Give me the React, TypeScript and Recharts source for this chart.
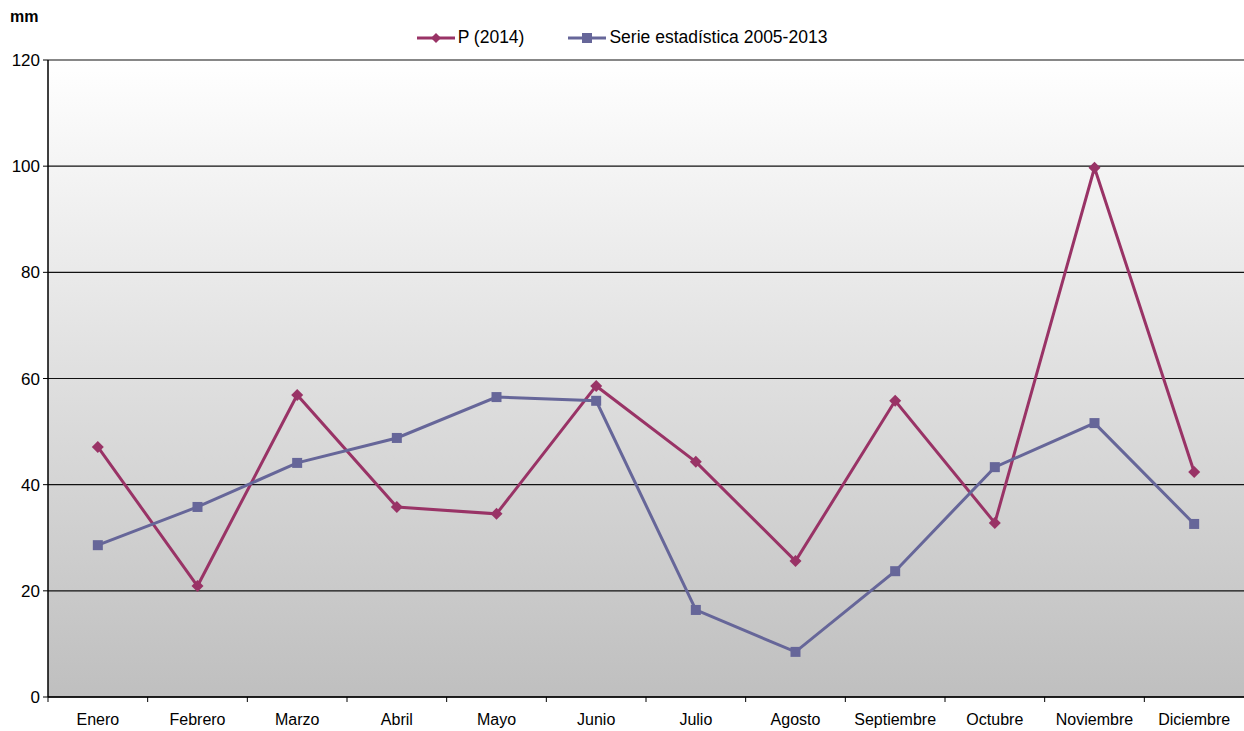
import React from "react";
import { LineChart, Line, XAxis, YAxis, CartesianGrid } from "recharts";

const months = [
  "Enero",
  "Febrero",
  "Marzo",
  "Abril",
  "Mayo",
  "Junio",
  "Julio",
  "Agosto",
  "Septiembre",
  "Octubre",
  "Noviembre",
  "Diciembre",
];
const p2014 = [47.1, 20.9, 56.9, 35.8, 34.5, 58.6, 44.3, 25.6, 55.8, 32.8, 99.7, 42.4];
const serie = [28.6, 35.8, 44.1, 48.8, 56.5, 55.8, 16.4, 8.5, 23.7, 43.3, 51.6, 32.6];
const yTicks = [0, 20, 40, 60, 80, 100, 120];

const data = months.map((m, i) => ({ month: m, p: p2014[i], s: serie[i] }));

const FONT = "'Liberation Sans', Arial, sans-serif";
const RED = "#993366";
const BLUE = "#666699";
const HALF_BAND = (1244 - 48) / 12 / 2;

const Diamond = (props: any) => {
  const { cx, cy } = props;
  if (cx == null || cy == null) return null;
  return (
    <path
      key={props.index}
      d={`M${cx},${cy - 6}L${cx + 6},${cy}L${cx},${cy + 6}L${cx - 6},${cy}Z`}
      fill={RED}
    />
  );
};

const Square = (props: any) => {
  const { cx, cy } = props;
  if (cx == null || cy == null) return null;
  return <rect key={props.index} x={cx - 5} y={cy - 5} width={10} height={10} fill={BLUE} />;
};

const MonthTick = (props: any) => {
  const { x, y, payload } = props;
  return (
    <g>
      <line x1={x - HALF_BAND} x2={x - HALF_BAND} y1={y - 8} y2={y - 3} stroke="#000" />
      <text x={x} y={y + 20} textAnchor="middle" fontSize={16} fontFamily={FONT} fill="#000">
        {payload.value}
      </text>
    </g>
  );
};

const ValueTick = (props: any) => {
  const { x, y, payload } = props;
  return (
    <text x={x - 1} y={y + 6} textAnchor="end" fontSize={17} fontFamily={FONT} fill="#000">
      {payload.value}
    </text>
  );
};

const LegendBox = () => (
  <div
    style={{
      position: "absolute",
      left: 0,
      top: 27,
      width: 1244,
      display: "flex",
      justifyContent: "center",
      gap: 44,
      fontFamily: FONT,
      fontSize: 17.5,
      color: "#000",
    }}
  >
    <span style={{ display: "flex", alignItems: "center" }}>
      <svg width={38} height={12} style={{ marginRight: 3 }}>
        <line x1={0} x2={38} y1={6} y2={6} stroke={RED} strokeWidth={3} />
        <path d="M19,1L24,6L19,11L14,6Z" fill={RED} />
      </svg>
      P (2014)
    </span>
    <span style={{ display: "flex", alignItems: "center" }}>
      <svg width={38} height={12} style={{ marginRight: 3 }}>
        <line x1={0} x2={38} y1={6} y2={6} stroke={BLUE} strokeWidth={3} />
        <rect x={14} y={1} width={10} height={10} fill={BLUE} />
      </svg>
      Serie estadística 2005-2013
    </span>
  </div>
);

export default function App() {
  return (
    <div style={{ position: "absolute", left: 0, top: 0, width: 1244, height: 731, background: "#fff" }}>
      <svg width={0} height={0} style={{ position: "absolute" }}>
        <defs>
          <linearGradient id="bgGrad" x1="0" y1="0" x2="0" y2="1">
            <stop offset="0%" stopColor="#ffffff" />
            <stop offset="100%" stopColor="#bfbfbf" />
          </linearGradient>
        </defs>
      </svg>
      <div
        style={{
          position: "absolute",
          left: 10,
          top: 8,
          fontFamily: FONT,
          fontWeight: "bold",
          fontSize: 16,
        }}
      >
        mm
      </div>
      <LegendBox />
      <LineChart
        width={1244}
        height={731}
        data={data}
        margin={{ top: 60, right: 0, left: 0, bottom: 0 }}
      >
        <CartesianGrid
          vertical={false}
          stroke="#111"
          strokeWidth={1.2}
          fill="url(#bgGrad)"
          fillOpacity={1}
        />
        <XAxis
          dataKey="month"
          height={34}
          padding={{ left: HALF_BAND, right: HALF_BAND }}
          axisLine={{ stroke: "#000", strokeWidth: 1.5 }}
          tickLine={false}
          tick={<MonthTick />}
          interval={0}
        />
        <YAxis
          width={48}
          domain={[0, 120]}
          ticks={yTicks}
          axisLine={{ stroke: "#000", strokeWidth: 1.5 }}
          tickLine={{ stroke: "#000" }}
          tickSize={5}
          tick={<ValueTick />}
          interval={0}
        />
        <Line
          dataKey="p"
          name="P (2014)"
          stroke={RED}
          strokeWidth={3}
          dot={Diamond}
          activeDot={false}
          isAnimationActive={false}
        />
        <Line
          dataKey="s"
          name="Serie estadística 2005-2013"
          stroke={BLUE}
          strokeWidth={3}
          dot={Square}
          activeDot={false}
          isAnimationActive={false}
        />
      </LineChart>
    </div>
  );
}
